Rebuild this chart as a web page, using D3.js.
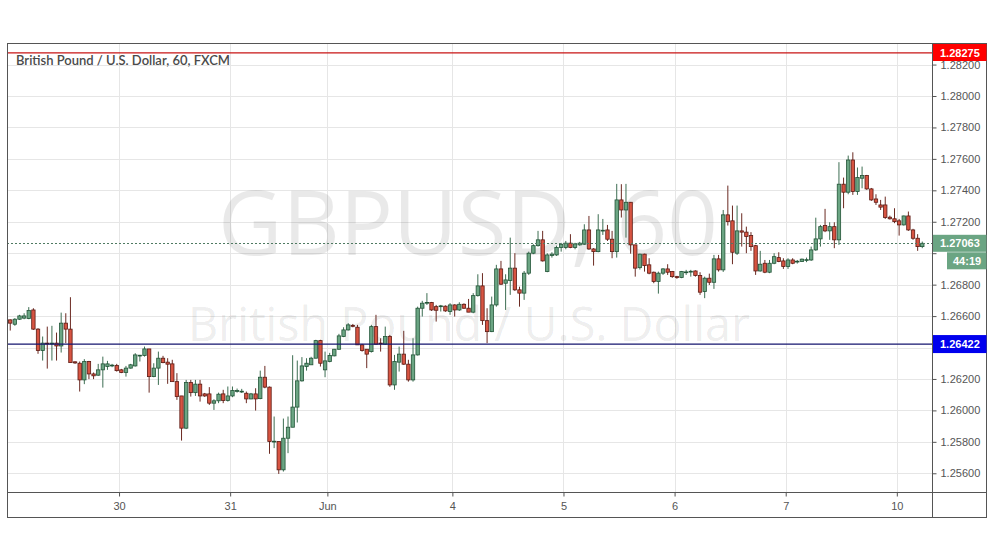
<!DOCTYPE html>
<html><head><meta charset="utf-8">
<script src="https://cdn.jsdelivr.net/npm/d3@7/dist/d3.min.js"></script>
<style>body{margin:0;background:#fff}svg{display:block}</style>
</head><body>
<svg id="chart" width="995" height="556"></svg>
<script>
// ---------------- DATA ----------------
const symbolTitle = "British Pound / U.S. Dollar, 60, FXCM";
const watermarkSymbol = "GBPUSD, 60";
const watermarkName = "British Pound / U.S. Dollar";

const opens = [1.26576,1.26548,1.26580,1.26587,1.26584,1.26639,1.26517,1.26381,1.26428,1.26425,1.26428,1.26410,1.26555,1.26517,1.26309,1.26300,1.26194,1.26311,1.26232,1.26224,1.26258,1.26279,1.26285,1.26285,1.26258,1.26241,1.26269,1.26283,1.26349,1.26349,1.26391,1.26215,1.26269,1.26332,1.26307,1.26296,1.26183,1.26092,1.25887,1.26177,1.26113,1.26167,1.26105,1.26105,1.26046,1.26061,1.26105,1.26063,1.26092,1.26124,1.26120,1.26109,1.26073,1.26105,1.26075,1.26211,1.26148,1.25802,1.25802,1.25622,1.25823,1.25893,1.26021,1.26188,1.26279,1.26290,1.26332,1.26444,1.26258,1.26311,1.26347,1.26389,1.26470,1.26512,1.26540,1.26529,1.26417,1.26389,1.26374,1.26533,1.26428,1.26421,1.26470,1.26162,1.26307,1.26358,1.26294,1.26194,1.26353,1.26650,1.26686,1.26686,1.26660,1.26663,1.26663,1.26629,1.26671,1.26639,1.26675,1.26650,1.26625,1.26730,1.26792,1.26571,1.26501,1.26671,1.26900,1.26809,1.26826,1.26905,1.26767,1.26746,1.26873,1.27000,1.27048,1.27085,1.26883,1.26985,1.26989,1.27036,1.27036,1.27064,1.27036,1.27053,1.27057,1.27148,1.27027,1.27010,1.27144,1.27148,1.27089,1.27010,1.27339,1.27275,1.27324,1.27053,1.26908,1.26994,1.26926,1.26879,1.26820,1.26873,1.26900,1.26883,1.26851,1.26845,1.26879,1.26883,1.26887,1.26858,1.26756,1.26841,1.26815,1.26964,1.26894,1.27244,1.27206,1.27000,1.27142,1.27134,1.27112,1.27048,1.26887,1.26936,1.26879,1.26936,1.26972,1.26951,1.26915,1.26957,1.26947,1.26947,1.26957,1.26957,1.27021,1.27091,1.27176,1.27142,1.27169,1.27085,1.27439,1.27388,1.27593,1.27392,1.27477,1.27494,1.27409,1.27345,1.27307,1.27307,1.27229,1.27219,1.27206,1.27180,1.27237,1.27148,1.27095,1.27042];
const highs = [1.26579,1.26587,1.26608,1.26618,1.26657,1.26650,1.26523,1.26470,1.26533,1.26538,1.26495,1.26622,1.26618,1.26720,1.26312,1.26311,1.26326,1.26315,1.26241,1.26296,1.26342,1.26315,1.26296,1.26296,1.26264,1.26283,1.26296,1.26364,1.26353,1.26406,1.26391,1.26300,1.26374,1.26347,1.26332,1.26322,1.26237,1.26092,1.26194,1.26194,1.26194,1.26194,1.26111,1.26148,1.26071,1.26113,1.26131,1.26152,1.26152,1.26139,1.26137,1.26120,1.26111,1.26141,1.26253,1.26283,1.26152,1.25961,1.25802,1.25948,1.25961,1.26351,1.26317,1.26339,1.26332,1.26341,1.26449,1.26449,1.26374,1.26366,1.26391,1.26487,1.26529,1.26555,1.26550,1.26544,1.26423,1.26389,1.26544,1.26608,1.26459,1.26533,1.26480,1.26353,1.26406,1.26506,1.26322,1.26459,1.26660,1.26697,1.26746,1.26690,1.26671,1.26671,1.26668,1.26682,1.26675,1.26688,1.26681,1.26709,1.26746,1.26866,1.26873,1.26650,1.26724,1.26926,1.26951,1.26866,1.27099,1.27000,1.26787,1.26887,1.27010,1.27057,1.27142,1.27142,1.27000,1.27006,1.27048,1.27066,1.27078,1.27121,1.27066,1.27072,1.27184,1.27237,1.27032,1.27248,1.27218,1.27180,1.27142,1.27441,1.27439,1.27441,1.27326,1.27053,1.26997,1.26997,1.26968,1.26883,1.26883,1.26905,1.26930,1.26887,1.26856,1.26887,1.26894,1.26894,1.26891,1.26879,1.26851,1.26870,1.26989,1.26989,1.27275,1.27430,1.27303,1.27303,1.27254,1.27169,1.27134,1.27053,1.27015,1.26957,1.26957,1.27000,1.27006,1.26968,1.26968,1.26968,1.26957,1.26966,1.26972,1.27042,1.27226,1.27180,1.27282,1.27197,1.27197,1.27579,1.27481,1.27621,1.27642,1.27545,1.27551,1.27498,1.27415,1.27375,1.27339,1.27360,1.27239,1.27286,1.27218,1.27239,1.27265,1.27155,1.27121,1.27074];
const lows = [1.26508,1.26538,1.26576,1.26580,1.26580,1.26512,1.26360,1.26317,1.26266,1.26317,1.26317,1.26368,1.26428,1.26304,1.26296,1.26120,1.26167,1.26199,1.26199,1.26220,1.26145,1.26258,1.26275,1.26247,1.26237,1.26215,1.26266,1.26279,1.26311,1.26342,1.26113,1.26211,1.26162,1.26300,1.26169,1.26183,1.26067,1.25808,1.25881,1.26088,1.26092,1.26056,1.26086,1.26035,1.26003,1.26046,1.26046,1.26056,1.26084,1.26113,1.26111,1.26046,1.26071,1.25999,1.26071,1.26141,1.25724,1.25760,1.25596,1.25611,1.25728,1.25893,1.25923,1.26183,1.26253,1.26290,1.26332,1.26279,1.26211,1.26306,1.26344,1.26385,1.26466,1.26508,1.26529,1.26417,1.26374,1.26269,1.26368,1.26417,1.26374,1.26417,1.26150,1.26131,1.26247,1.26290,1.26183,1.26183,1.26349,1.26597,1.26671,1.26633,1.26565,1.26629,1.26627,1.26608,1.26597,1.26633,1.26646,1.26625,1.26618,1.26724,1.26544,1.26428,1.26498,1.26660,1.26798,1.26639,1.26735,1.26760,1.26660,1.26703,1.26862,1.26994,1.27042,1.26947,1.26879,1.26972,1.26983,1.27010,1.27025,1.27032,1.27025,1.27048,1.27053,1.27021,1.26921,1.27006,1.27116,1.27078,1.26968,1.26972,1.27227,1.27099,1.26997,1.26851,1.26896,1.26883,1.26866,1.26809,1.26743,1.26862,1.26862,1.26843,1.26837,1.26841,1.26862,1.26851,1.26851,1.26735,1.26714,1.26798,1.26773,1.26883,1.26881,1.27176,1.26930,1.26989,1.27042,1.27000,1.27015,1.26862,1.26883,1.26873,1.26873,1.26930,1.26943,1.26900,1.26900,1.26930,1.26934,1.26945,1.26943,1.26951,1.27015,1.27042,1.27134,1.27085,1.27032,1.27053,1.27286,1.27375,1.27371,1.27371,1.27413,1.27403,1.27333,1.27307,1.27275,1.27218,1.27214,1.27191,1.27112,1.27176,1.27142,1.27085,1.27015,1.27032];
const closes = [1.26555,1.26580,1.26601,1.26601,1.26635,1.26517,1.26381,1.26428,1.26425,1.26428,1.26410,1.26555,1.26517,1.26304,1.26302,1.26194,1.26311,1.26232,1.26220,1.26258,1.26296,1.26296,1.26288,1.26253,1.26241,1.26269,1.26290,1.26353,1.26351,1.26391,1.26215,1.26269,1.26332,1.26304,1.26294,1.26183,1.26088,1.25887,1.26177,1.26113,1.26167,1.26092,1.26092,1.26046,1.26061,1.26103,1.26063,1.26092,1.26126,1.26126,1.26122,1.26073,1.26105,1.26073,1.26211,1.26148,1.25802,1.25804,1.25622,1.25823,1.25893,1.26021,1.26188,1.26283,1.26300,1.26332,1.26444,1.26300,1.26315,1.26349,1.26389,1.26474,1.26512,1.26544,1.26536,1.26417,1.26381,1.26358,1.26533,1.26421,1.26425,1.26470,1.26162,1.26311,1.26358,1.26294,1.26194,1.26353,1.26650,1.26682,1.26687,1.26639,1.26637,1.26665,1.26633,1.26671,1.26639,1.26675,1.26650,1.26625,1.26730,1.26792,1.26571,1.26501,1.26671,1.26900,1.26803,1.26830,1.26905,1.26767,1.26746,1.26873,1.27000,1.27048,1.27085,1.26951,1.26989,1.26994,1.27036,1.27057,1.27064,1.27036,1.27059,1.27064,1.27148,1.27027,1.27010,1.27148,1.27146,1.27089,1.27010,1.27339,1.27275,1.27324,1.27053,1.26905,1.26994,1.26921,1.26873,1.26820,1.26873,1.26900,1.26879,1.26851,1.26845,1.26883,1.26881,1.26885,1.26858,1.26752,1.26841,1.26815,1.26964,1.26894,1.27244,1.27201,1.27006,1.27142,1.27134,1.27106,1.27042,1.26887,1.26930,1.26879,1.26936,1.26978,1.26947,1.26915,1.26957,1.26936,1.26949,1.26962,1.26959,1.27021,1.27091,1.27169,1.27142,1.27169,1.27085,1.27439,1.27388,1.27593,1.27392,1.27481,1.27494,1.27409,1.27339,1.27324,1.27293,1.27227,1.27219,1.27201,1.27180,1.27237,1.27148,1.27095,1.27042,1.27063];

const timeTickLabels = ["30","31","Jun","4","5","6","7","10"];
const timeTickBars   = [23, 47, 68, 95, 119, 143, 167, 191];
const priceTicks = [1.256,1.258,1.260,1.262,1.264,1.266,1.268,1.270,1.272,1.274,1.276,1.278,1.280,1.282];
const resistanceLevel = 1.28275;
const supportLevel = 1.26422;
const lastPrice = 1.27063;
const countdown = "44:19";

// ---------------- LAYOUT ----------------
const svg = d3.select("#chart");
const L = 7, R = 932, T = 43, B = 492, AXR = 987, AXB = 518;
const n = closes.length;
const x = d3.scaleLinear().domain([-0.7, n + 1.1]).range([L, R]);
const y = d3.scaleLinear().domain([1.254809, 1.283372]).range([B, T]);
const fmt = d3.format(".5f");
const bw = 3.4;
const axisFont = "Liberation Sans, Arial, sans-serif";

svg.append("rect").attr("width",995).attr("height",556).attr("fill","#fff");

const clipId = "plotclip";
svg.append("clipPath").attr("id",clipId).append("rect")
  .attr("x",L).attr("y",T).attr("width",R-L).attr("height",B-T);

// grid
const grid = svg.append("g").attr("clip-path",`url(#${clipId})`);
grid.selectAll("line.h").data(priceTicks).join("line")
  .attr("x1",L).attr("x2",R)
  .attr("y1",d=>Math.round(y(d))+0.5).attr("y2",d=>Math.round(y(d))+0.5)
  .attr("stroke","#e6e6e6").attr("stroke-width",1);
grid.selectAll("line.v").data(timeTickBars).join("line")
  .attr("y1",T).attr("y2",B)
  .attr("x1",d=>Math.round(x(d+0.5))+0.5).attr("x2",d=>Math.round(x(d+0.5))+0.5)
  .attr("stroke","#e6e6e6").attr("stroke-width",1);

// watermark
svg.append("text").text(watermarkSymbol)
  .attr("x",468).attr("y",255).attr("text-anchor","middle")
  .attr("font-family","Open Sans, Lato, sans-serif").attr("font-size",90)
  .attr("textLength",500).attr("lengthAdjust","spacingAndGlyphs")
  .attr("fill","#000").attr("fill-opacity",0.085);
svg.append("text").text(watermarkName)
  .attr("x",469).attr("y",341).attr("text-anchor","middle")
  .attr("font-family","Open Sans, Lato, sans-serif").attr("font-size",48)
  .attr("textLength",562).attr("lengthAdjust","spacingAndGlyphs")
  .attr("fill","#000").attr("fill-opacity",0.085);

// title
svg.append("text").text(symbolTitle)
  .attr("x",16).attr("y",65)
  .attr("font-family","Lato, Open Sans, sans-serif").attr("font-size",13.5).attr("font-weight",600)
  .attr("textLength",214).attr("lengthAdjust","spacingAndGlyphs")
  .attr("fill","#4a4a4a");

// candles
const bars = d3.range(n).map(i => ({i, o:opens[i], h:highs[i], l:lows[i], c:closes[i]}));
const cg = svg.append("g").attr("clip-path",`url(#${clipId})`);
const cand = cg.selectAll("g.c").data(bars).join("g");
cand.append("line")
  .attr("x1",d=>x(d.i)).attr("x2",d=>x(d.i))
  .attr("y1",d=>y(d.h)).attr("y2",d=>y(d.l))
  .attr("stroke",d=>d.c>=d.o?"#3d6e52":"#6b2a22").attr("stroke-width",1);
cand.append("rect")
  .attr("x",d=>x(d.i)-bw/2).attr("width",bw)
  .attr("y",d=>y(Math.max(d.o,d.c)))
  .attr("height",d=>Math.max(0.8,Math.abs(y(d.o)-y(d.c))))
  .attr("fill",d=>d.c>=d.o?"#6ba583":"#d75442")
  .attr("stroke",d=>d.c>=d.o?"#225437":"#5b1a13").attr("stroke-width",0.8);

// horizontal levels
svg.append("line").attr("x1",L).attr("x2",R)
  .attr("y1",y(resistanceLevel)).attr("y2",y(resistanceLevel))
  .attr("stroke","#c81414").attr("stroke-width",1.2);
svg.append("line").attr("x1",L).attr("x2",R)
  .attr("y1",y(supportLevel)).attr("y2",y(supportLevel))
  .attr("stroke","#14146e").attr("stroke-width",1.2);
svg.append("line").attr("x1",L).attr("x2",R)
  .attr("y1",Math.round(y(lastPrice))+0.5).attr("y2",Math.round(y(lastPrice))+0.5)
  .attr("stroke","#4f7a62").attr("stroke-width",1).attr("stroke-dasharray","2,2");

// frame
svg.append("rect").attr("x",L+0.5).attr("y",T+0.5).attr("width",AXR-L-1).attr("height",AXB-T-1)
  .attr("fill","none").attr("stroke","#555");
svg.append("line").attr("x1",R+0.5).attr("x2",R+0.5).attr("y1",T).attr("y2",AXB).attr("stroke","#555");
svg.append("line").attr("x1",L).attr("x2",AXR).attr("y1",B+0.5).attr("y2",B+0.5).attr("stroke","#555");

// price axis (labels hidden where a level box covers them, as in the reference)
const boxLevels = [supportLevel, lastPrice];
const covered = v => boxLevels.some(b => Math.abs(y(b) - y(v)) < 12);
const yAxis = d3.axisRight(y).tickValues(priceTicks)
  .tickFormat(v => covered(v) ? "" : fmt(v)).tickSize(4).tickPadding(4);
const ya = svg.append("g").attr("transform",`translate(${R+0.5},0)`).call(yAxis);
ya.select(".domain").remove();
ya.selectAll("line").attr("stroke","#555");
ya.selectAll("text").attr("font-family",axisFont).attr("font-size",11).attr("fill","#555");

// time axis
const xAxis = d3.axisBottom(x).tickValues(timeTickBars.map(b=>b+0.5))
  .tickFormat((d,k)=>timeTickLabels[k]).tickSize(4).tickPadding(6);
const xa = svg.append("g").attr("transform",`translate(0,${B+0.5})`).call(xAxis);
xa.select(".domain").remove();
xa.selectAll("line").attr("stroke","#555");
xa.selectAll("text").attr("font-family",axisFont).attr("font-size",11).attr("fill","#555");

// price labels (boxes)
function priceBox(v, fill, h, top) {
  const yy = y(v);
  const t = top !== undefined ? top : yy - h/2;
  svg.append("rect").attr("x",R+1).attr("y",t).attr("width",AXR-R-1.5).attr("height",h).attr("fill",fill);
  svg.append("text").text(fmt(v)).attr("x",R+8).attr("y",t+h/2+4)
    .attr("font-family",axisFont).attr("font-size",11).attr("font-weight","bold").attr("fill","#fff");
}
priceBox(resistanceLevel, "#ff0000", 17, T+1);
priceBox(supportLevel, "#0000ee", 18);
priceBox(lastPrice, "#6ba583", 17);
const cdTop = y(lastPrice) + 9;
svg.append("rect").attr("x",R+15).attr("y",cdTop).attr("width",AXR-R-15.5).attr("height",17).attr("fill","#6ba583");
svg.append("text").text(countdown).attr("x",R+21).attr("y",cdTop+12.5)
  .attr("font-family",axisFont).attr("font-size",11).attr("font-weight","bold").attr("fill","#fff");
</script>
</body></html>
